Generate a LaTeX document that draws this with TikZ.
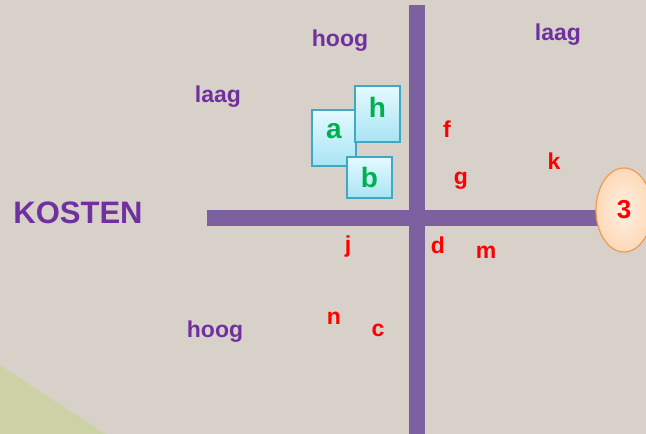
\documentclass[tikz,border=0pt]{standalone}
\usepackage{fontspec}
\setmainfont{Liberation Sans}
\usetikzlibrary{shapes.geometric}
\definecolor{bgc}{HTML}{D7D1C9}
\definecolor{greenbg}{HTML}{CDD2A6}
\definecolor{barc}{HTML}{7D60A0}
\definecolor{purp}{HTML}{7030A0}
\definecolor{boxtop}{HTML}{E4FAFF}
\definecolor{boxbot}{HTML}{A8E4F4}
\definecolor{boxline}{HTML}{3FA9C5}
\definecolor{lettergreen}{HTML}{00B050}
\definecolor{peach}{HTML}{FDD9B8}
\definecolor{peachlight}{HTML}{FFF0E2}
\definecolor{orangeline}{HTML}{EE9B55}
\tikzset{
  axis/.style={line width=16pt, barc},
  lab/.style={text=purp, font=\bfseries\fontsize{23}{26}\selectfont, inner sep=0pt},
  pt/.style={text=red, font=\bfseries\fontsize{23}{25}\selectfont, inner sep=0pt},
  card/.style={draw=boxline, line width=1.6pt, top color=boxtop, bottom color=boxbot,
    text=lettergreen, font=\bfseries\fontsize{28}{29}\selectfont, inner sep=0pt},
  bubble/.style={ellipse, draw=orangeline, line width=1.2pt, inner color=peachlight, outer color=peach,
    minimum width=56pt, minimum height=84pt, text=red, font=\bfseries\fontsize{26}{28}\selectfont}
}
\begin{document}
\begin{tikzpicture}[x=1pt,y=-1pt]
\fill[bgc] (0,0) rectangle (646,434);
\useasboundingbox (0,0) rectangle (646,434);
\fill[greenbg] (0,365) -- (105,434) -- (0,434) -- cycle;
% axes
\coordinate (vtop) at (417,5);
\coordinate (vbot) at (417,434);
\coordinate (hleft) at (207,218);
\coordinate (hright) at (605,218);
\draw[axis] (vtop) -- (vbot);
\draw[axis] (hleft) -- (hright);
\node[bubble] (three) at (624,210) {3};
% labels
\node[lab] (hoog1) at (340,41) {hoog};
\node[lab] (laag1) at (558,35) {laag};
\node[lab] (laag2) at (218,97) {laag};
\node[lab] (hoog2) at (215,332) {hoog};
\node[text=purp, font=\bfseries\fontsize{31}{33}\selectfont, inner sep=0pt] (kosten) at (78,213) {KOSTEN};
% cards
\node[card, minimum width=44pt, minimum height=56pt, text depth=14pt] (a) at (334,138) {a};
\node[card, minimum width=45pt, minimum height=56pt, text depth=14pt] (h) at (377.5,114) {h};
\node[card, minimum width=45pt, minimum height=41pt] (b) at (369.5,177.5) {b};
% points
\node[pt] (f) at (447,129) {f};
\node[pt] (g) at (461,181) {g};
\node[pt] (k) at (554,161) {k};
\node[pt] (j) at (348,247) {j};
\node[pt] (d) at (438,245) {d};
\node[pt] (m) at (486,252) {m};
\node[pt] (n) at (334,318) {n};
\node[pt] (c) at (378,330) {c};
\end{tikzpicture}
\end{document}
